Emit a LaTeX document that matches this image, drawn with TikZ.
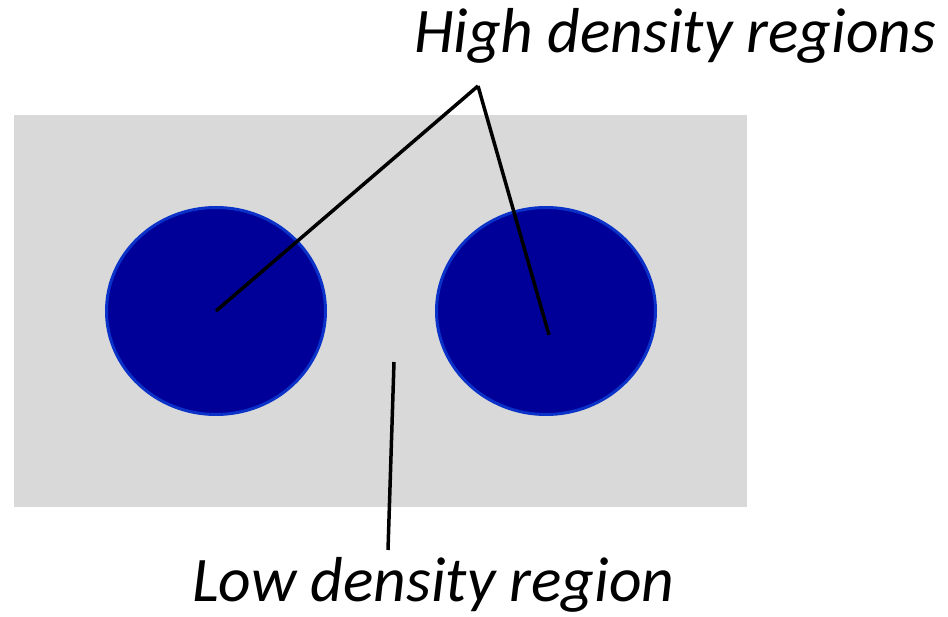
\documentclass[tikz,border=0pt]{standalone}
\usepackage{fontspec}
\setmainfont{Carlito}
\usepackage{xcolor}
\usepackage{tikz}
\usetikzlibrary{positioning, shapes.geometric}
\definecolor{bgGray}{HTML}{D9D9D9}
\definecolor{blobFill}{HTML}{000099}
\definecolor{blobEdge}{HTML}{0A32C8}
\tikzset{
  blob/.style={ellipse, draw=blobEdge, fill=blobFill, line width=3pt, minimum width=219pt, minimum height=207pt, inner sep=0pt},
  pointer/.style={black, line width=3.5pt},
  caption/.style={font=\fontsize{63.5}{72}\selectfont\itshape, inner sep=0pt, anchor=base west}
}
\begin{document}
\begin{tikzpicture}[x=1pt, y=1pt]
        \useasboundingbox (0, 0) rectangle (948, 616);
        \fill[bgGray] (14, 109) rectangle (747, 501);
        \node[blob] (leftblob) at (216, 305) {};
        \node[blob] (rightblob) at (546, 305) {};
        \node[caption] (hightxt) at (414, 563) {High density regions};
        \node[caption] (lowtxt) at (192, 15) {Low density region};
        \coordinate (apex) at (478, 530);
        \coordinate (rightend) at (549, 281);
        \coordinate (lowtop) at (394, 254);
        \coordinate (lowfoot) at (388, 66);
        \draw[pointer] (apex) -- (leftblob.center);
        \draw[pointer] (apex) -- (rightend);
        \draw[pointer] (lowtop) -- (lowfoot);
      \end{tikzpicture}
\end{document}
